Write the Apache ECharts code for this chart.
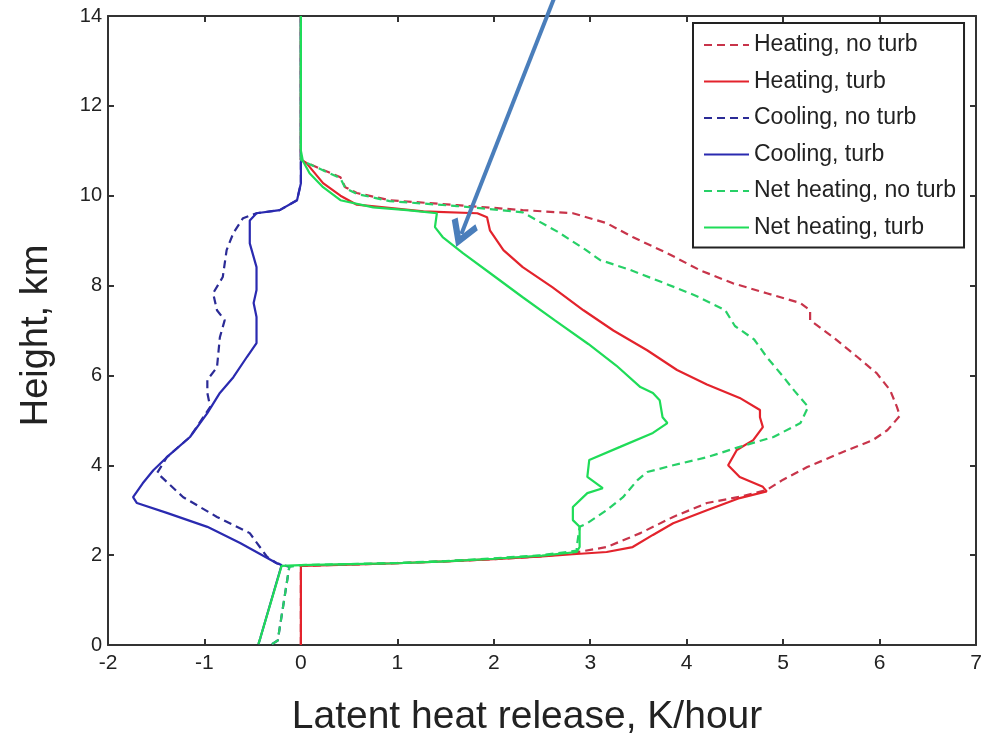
<!DOCTYPE html>
<html><head><meta charset="utf-8">
<script src="https://cdn.jsdelivr.net/npm/echarts@6/dist/echarts.min.js"></script>
<style>html,body{margin:0;padding:0;background:#fff}#c{width:996px;height:733px}</style>
</head><body><div id="c"></div>
<script>
// Heating, no turb (red dashed)
const heatNoTurbX = [0,0,0.5,1,1.5,2,2.5,2.82,3.17,3.52,3.86,4.21,4.55,4.83,5.0,5.25,5.59,5.93,6.08,6.11,6.21,6.18,6.11,5.97,5.77,5.52,5.28,5.28,5.18,4.83,4.48,4.14,3.8,3.44,3.17,2.82,2.3,1.62,0.92,0.58,0.46,0.41,0.04,0,0];
const heatNoTurbH = [0,1.76,1.79,1.82,1.86,1.91,1.97,2.05,2.18,2.49,2.85,3.16,3.3,3.45,3.68,3.96,4.27,4.56,4.78,4.85,5.1,5.3,5.67,6.05,6.41,6.85,7.23,7.45,7.61,7.83,8.05,8.34,8.72,9.08,9.39,9.61,9.68,9.79,9.9,10.06,10.19,10.41,10.75,10.8,14];
// Heating, turb (red solid)
const heatTurbX = [0,0,0.5,1,1.5,2,2.5,2.82,3.17,3.44,3.65,3.86,4.21,4.55,4.83,4.79,4.55,4.43,4.52,4.69,4.79,4.76,4.76,4.55,4.21,3.9,3.59,3.24,2.93,2.61,2.3,2.1,1.96,1.93,1.83,1.27,0.58,0.41,0.23,0.06,0,0];
const heatTurbH = [0,1.76,1.79,1.82,1.86,1.91,1.97,2.02,2.07,2.18,2.45,2.71,3.0,3.27,3.42,3.52,3.74,4.0,4.34,4.56,4.85,5.07,5.23,5.5,5.8,6.12,6.56,7.0,7.45,7.96,8.41,8.79,9.23,9.52,9.61,9.65,9.8,10.0,10.28,10.72,10.8,14];
// Cooling, no turb (blue dashed)
const coolNoTurbX = [-0.3,-0.24,-0.12,-0.25,-0.35,-0.53,-0.87,-1.22,-1.49,-1.39,-1.15,-0.94,-0.97,-0.97,-0.87,-0.84,-0.79,-0.87,-0.91,-0.81,-0.77,-0.7,-0.6,-0.46,-0.22,-0.04,0,0,0];
const coolNoTurbH = [0.02,0.1,1.74,1.82,1.96,2.49,2.85,3.29,3.83,4.18,4.63,5.3,5.61,5.9,6.18,6.85,7.23,7.45,7.83,8.19,8.79,9.17,9.5,9.61,9.68,9.9,10.28,10.79,14];
// Cooling, turb (blue solid)
const coolTurbX = [-0.44,-0.42,-0.2,-0.25,-0.63,-0.97,-1.39,-1.7,-1.74,-1.64,-1.53,-1.39,-1.15,-0.97,-0.84,-0.7,-0.56,-0.46,-0.46,-0.49,-0.46,-0.46,-0.53,-0.53,-0.46,-0.22,-0.04,0,0,0];
const coolTurbH = [0.02,0.16,1.78,1.82,2.27,2.63,2.94,3.16,3.29,3.6,3.89,4.18,4.63,5.16,5.61,5.96,6.41,6.72,7.3,7.61,7.9,8.41,8.94,9.45,9.61,9.68,9.9,10.28,10.79,14];
// Net heating, no turb (green dashed)
const netNoTurbX = [-0.3,-0.24,-0.12,0,0.5,1,1.5,2,2.5,2.86,2.86,2.89,2.97,3.17,3.34,3.49,3.59,3.86,4.21,4.55,4.9,5.18,5.26,5.12,4.99,4.83,4.7,4.5,4.4,4.1,3.75,3.4,3.1,2.95,2.66,2.3,1.62,0.92,0.58,0.46,0.41,0.04,0,0];
const netNoTurbH = [0.02,0.1,1.74,1.78,1.8,1.83,1.87,1.93,2.0,2.1,2.18,2.63,2.71,3.0,3.29,3.67,3.85,4.0,4.18,4.41,4.63,4.94,5.3,5.65,6.0,6.41,6.8,7.1,7.45,7.77,8.07,8.36,8.57,8.8,9.2,9.63,9.77,9.88,10.04,10.17,10.39,10.75,10.8,14];
// Net heating, turb (green solid)
const netTurbX = [-0.44,-0.42,-0.2,0,0.5,1,1.5,2,2.5,2.86,2.89,2.89,2.82,2.82,2.97,3.13,2.97,2.99,3.31,3.65,3.8,3.75,3.72,3.65,3.52,3.27,2.98,2.63,2.3,1.96,1.68,1.47,1.39,1.41,1.1,0.75,0.41,0.23,0.09,0.02,0,0];
const netTurbH = [0.02,0.16,1.76,1.78,1.8,1.82,1.86,1.92,1.99,2.07,2.18,2.63,2.78,3.07,3.38,3.49,3.74,4.12,4.41,4.72,4.94,5.07,5.45,5.61,5.74,6.22,6.7,7.23,7.74,8.28,8.72,9.08,9.3,9.61,9.68,9.74,9.9,10.19,10.5,10.78,11,14];

const seriesNames = ['Heating, no turb','Heating, turb','Cooling, no turb','Cooling, turb','Net heating, no turb','Net heating, turb'];
const xTicksMin = -2, xTicksMax = 7, yTicksMin = 0, yTicksMax = 14;
// annotation arrow (data coordinates)
const arrowFrom = [2.63, 14.42];
const arrowTo = [1.664, 9.15];

function pairs(xs, hs){ return hs.map((h,i)=>[xs[i], h]); }
const defs = [
  [heatNoTurbX, heatNoTurbH, '#c8344a', [8,5]],
  [heatTurbX, heatTurbH, '#e3232c', 'solid'],
  [coolNoTurbX, coolNoTurbH, '#2b2b96', [8,5]],
  [coolTurbX, coolTurbH, '#2a2ab0', 'solid'],
  [netNoTurbX, netNoTurbH, '#27d067', [8,5]],
  [netTurbX, netTurbH, '#1fdc58', 'solid']
];
const series = defs.map((d,i)=>({
  name: seriesNames[i], type:'line', symbol:'none', showSymbol:false, clip:false,
  data: pairs(d[0], d[1]), smooth:false,
  lineStyle:{color:d[2], width:2.2, type:d[3]}, itemStyle:{color:d[2]},
  emphasis:{disabled:true}, animation:false
}));
series.push({
  name:'arrow', type:'lines', coordinateSystem:'cartesian2d', xAxisIndex:0, yAxisIndex:0,
  silent:true, animation:false, clip:false, z:10,
  symbol:['none','path://M50,0 L100,80 L84,96 L50,42 L16,96 L0,80 Z'],
  symbolSize:28,
  lineStyle:{color:'#4a7ebb', width:4, type:'solid', opacity:1, curveness:0},
  data:[{coords:[arrowFrom, arrowTo]}]
});

const axisColor = '#333';
const font = 'Liberation Sans, Arial, Helvetica, sans-serif';
const chart = echarts.init(document.getElementById('c'), null, {renderer:'canvas'});
chart.setOption({
  backgroundColor:'#fff',
  animation:false,
  textStyle:{fontFamily:font},
  grid:{left:108, top:16, width:868, height:629, containLabel:false, outerBoundsMode:'none'},
  legend:{
    data: seriesNames, orient:'vertical', left:693, top:23,
    itemWidth:45, itemHeight:20, itemGap:10.5,
    padding:[9,8,7,10], borderColor:'#222', borderWidth:2, backgroundColor:'#fff',
    itemStyle:{opacity:0},
    textStyle:{fontSize:23, color:'#222', lineHeight:26, fontFamily:font},
    selectedMode:false
  },
  xAxis:[{
    type:'value', min:xTicksMin, max:xTicksMax, interval:1, position:'bottom',
    axisLine:{show:true, onZero:false, lineStyle:{color:axisColor, width:2}},
    axisTick:{show:true, inside:true, length:6, lineStyle:{color:axisColor, width:2}},
    axisLabel:{fontSize:21, color:'#222', margin:8, fontFamily:font},
    splitLine:{show:false},
    name:'Latent heat release, K/hour', nameLocation:'middle', nameGap:53,
    nameTextStyle:{fontSize:39, color:'#222', padding:[0,30,0,0], fontFamily:font}
  },{
    type:'value', min:xTicksMin, max:xTicksMax, interval:1, position:'top',
    axisLine:{show:true, onZero:false, lineStyle:{color:axisColor, width:2}},
    axisTick:{show:true, inside:true, length:6, lineStyle:{color:axisColor, width:2}},
    axisLabel:{show:false}, splitLine:{show:false}
  }],
  yAxis:[{
    type:'value', min:yTicksMin, max:yTicksMax, interval:2, position:'left',
    axisLine:{show:true, onZero:false, lineStyle:{color:axisColor, width:2}},
    axisTick:{show:true, inside:true, length:6, lineStyle:{color:axisColor, width:2}},
    axisLabel:{fontSize:20, color:'#222', margin:6, fontFamily:font},
    splitLine:{show:false},
    name:'Height, km', nameLocation:'middle', nameGap:52, nameRotate:90,
    nameTextStyle:{fontSize:38, color:'#222', padding:[0,10,0,0], fontFamily:font}
  },{
    type:'value', min:yTicksMin, max:yTicksMax, interval:2, position:'right',
    axisLine:{show:true, onZero:false, lineStyle:{color:axisColor, width:2}},
    axisTick:{show:true, inside:true, length:6, lineStyle:{color:axisColor, width:2}},
    axisLabel:{show:false}, splitLine:{show:false}
  }],
  series: series
});
</script></body></html>
